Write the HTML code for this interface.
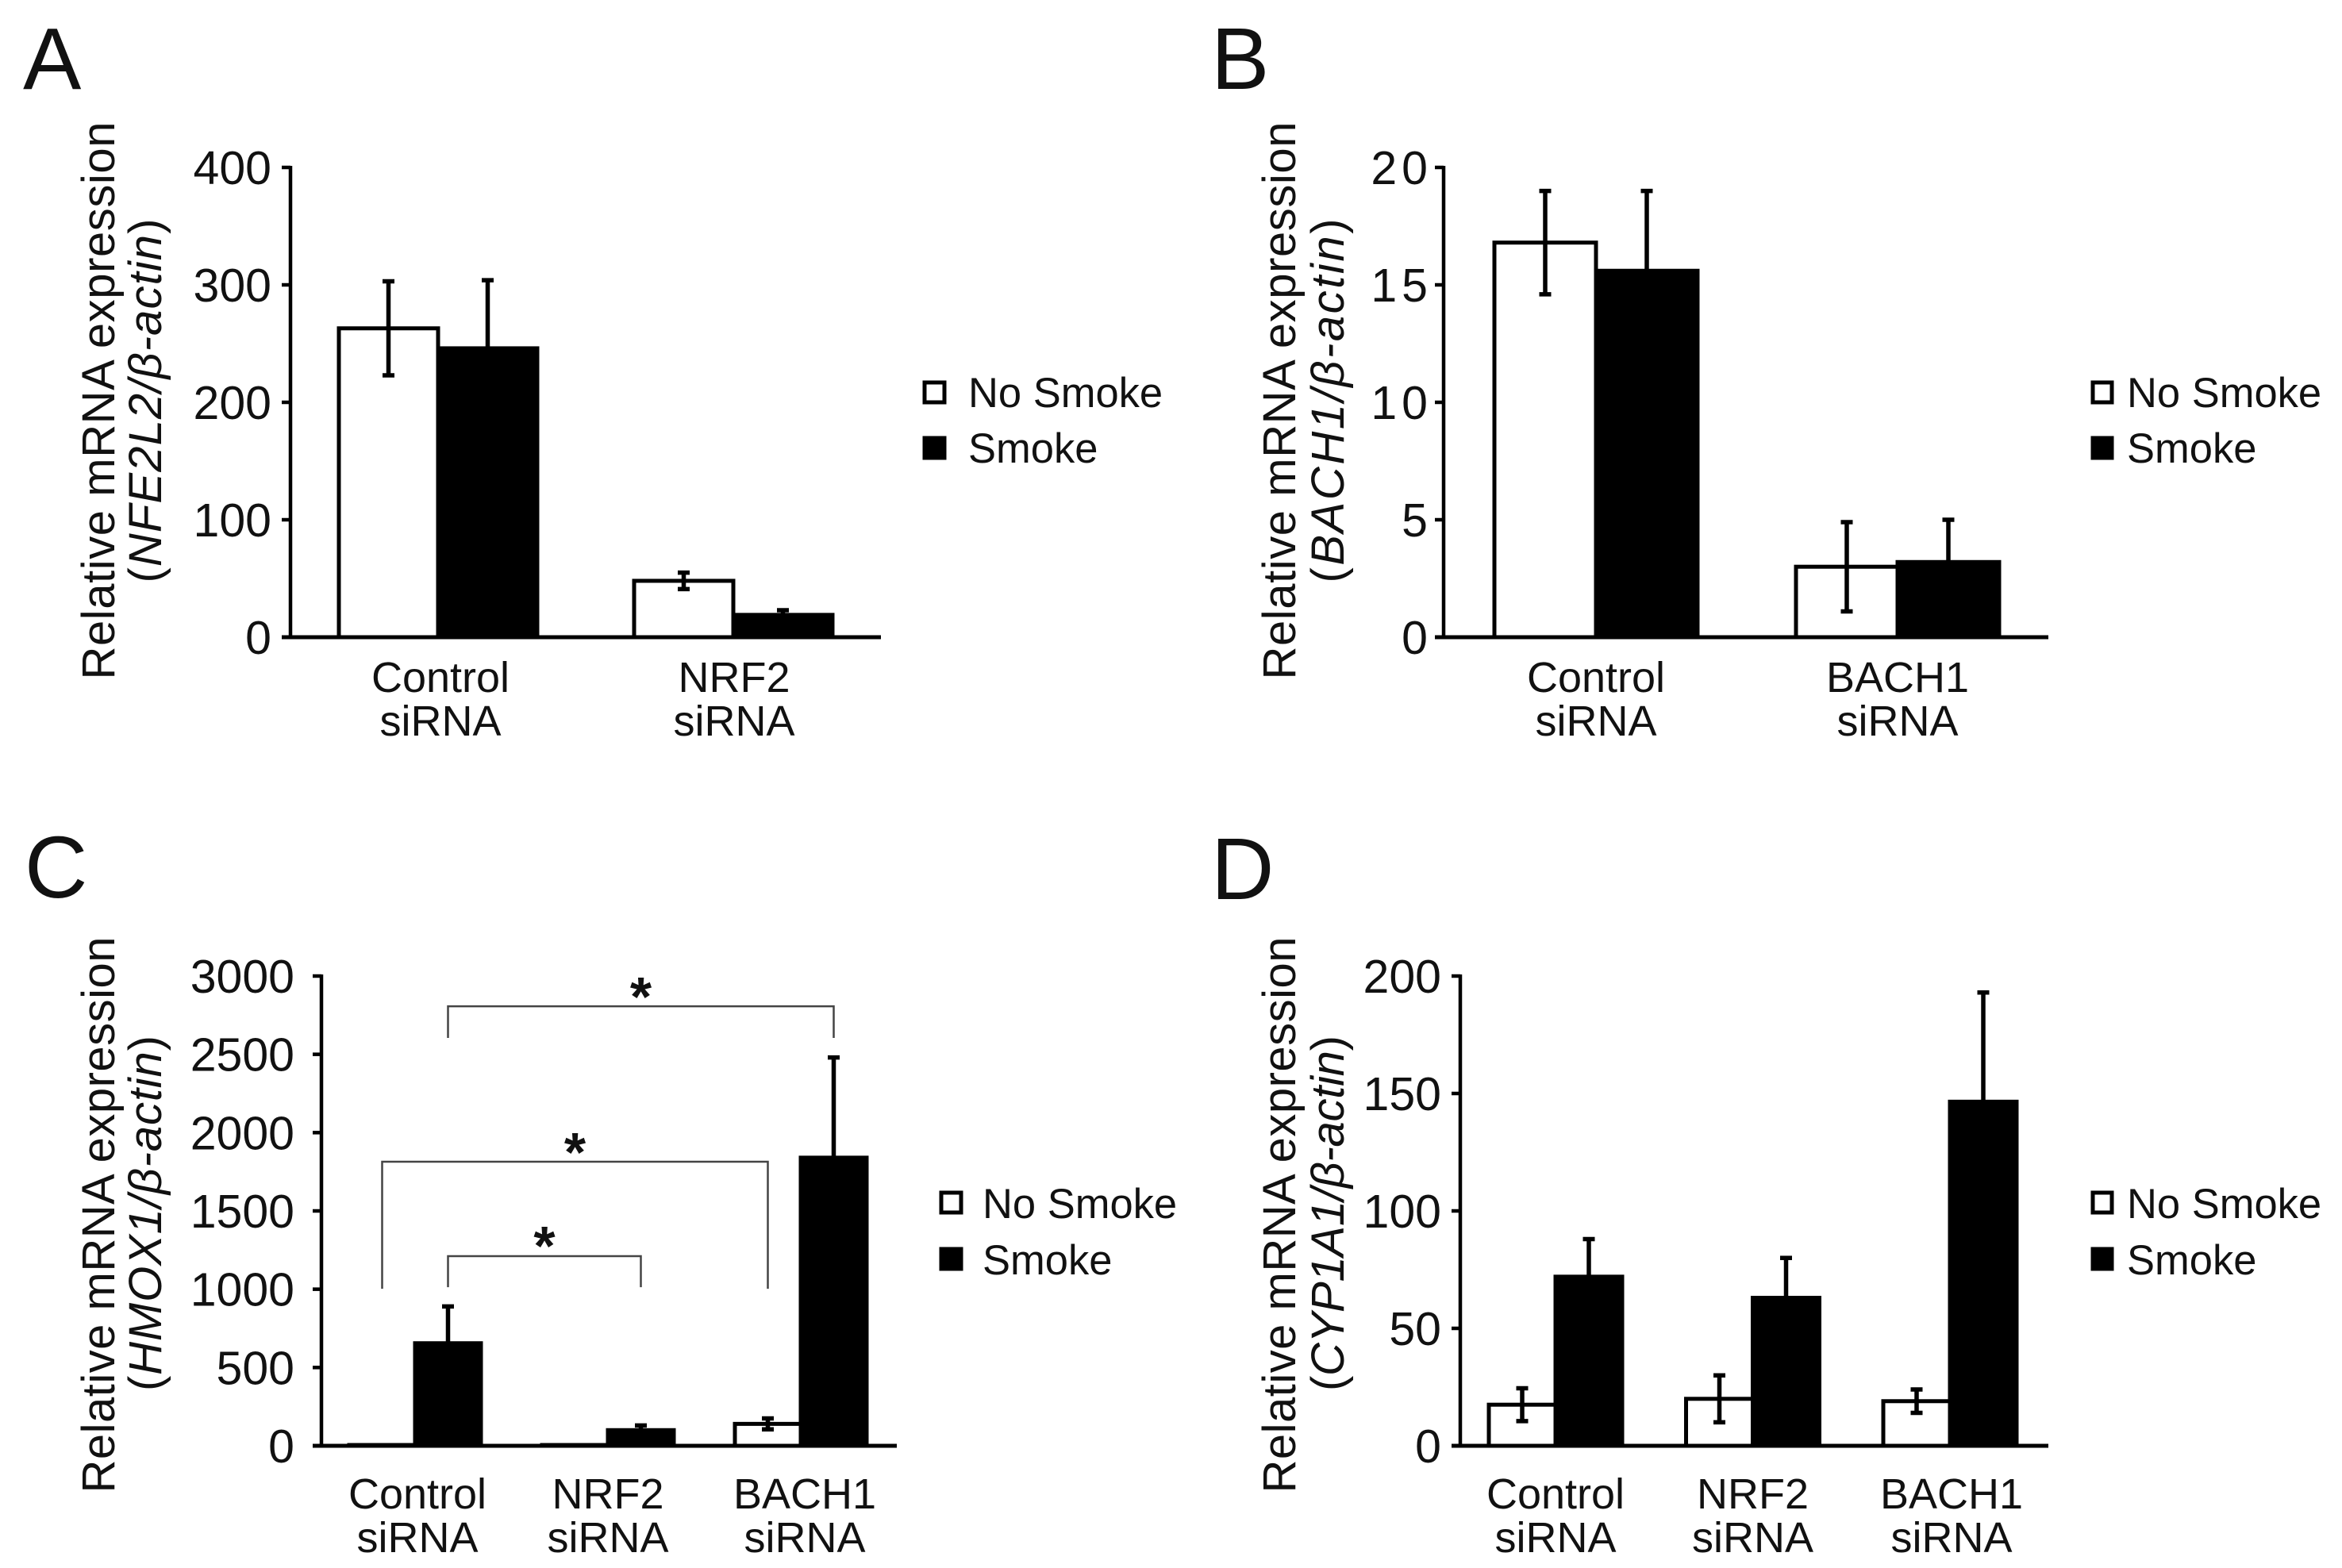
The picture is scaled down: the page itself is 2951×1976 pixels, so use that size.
<!DOCTYPE html>
<html lang="en">
<head>
<meta charset="utf-8">
<title>Relative mRNA expression panels</title>
<style>
html,body{margin:0;padding:0;background:#fff;}
svg{display:block;}
text{font-family:"Liberation Sans",Arial,sans-serif;fill:#111;}
.letter{font-size:110px;}
.ytitle{font-size:58px;}
.legend{font-size:52.5px;}
.tick{font-size:59px;text-anchor:end;}
.cat{font-size:54px;text-anchor:middle;}
.star{font-size:70px;font-weight:bold;text-anchor:middle;}
</style>
</head>
<body>
<svg id="figure" xmlns="http://www.w3.org/2000/svg" width="2951" height="1976" viewBox="0 0 2951 1976">
<rect width="2951" height="1976" fill="#fff"/>

<text class="letter" x="29" y="112">A</text>
<text class="letter" x="1526" y="112">B</text>
<text class="letter" x="31" y="1131">C</text>
<text class="letter" x="1526" y="1133">D</text>

<g>
<text class="ytitle" text-anchor="middle" textLength="703" transform="translate(144,505) rotate(-90)">Relative mRNA expression</text>
<text class="ytitle" text-anchor="middle" textLength="459" transform="translate(203,505) rotate(-90)">(<tspan font-style="italic">NFE2L2/β-actin</tspan>)</text>
</g>
<g>
<text class="ytitle" text-anchor="middle" textLength="703" transform="translate(1632,505) rotate(-90)">Relative mRNA expression</text>
<text class="ytitle" text-anchor="middle" textLength="459" transform="translate(1693,505) rotate(-90)">(<tspan font-style="italic">BACH1/β-actin</tspan>)</text>
</g>
<g>
<text class="ytitle" text-anchor="middle" textLength="701" transform="translate(144,1531) rotate(-90)">Relative mRNA expression</text>
<text class="ytitle" text-anchor="middle" textLength="448" transform="translate(203,1529) rotate(-90)">(<tspan font-style="italic">HMOX1/β-actin</tspan>)</text>
</g>
<g>
<text class="ytitle" text-anchor="middle" textLength="701" transform="translate(1632,1531) rotate(-90)">Relative mRNA expression</text>
<text class="ytitle" text-anchor="middle" textLength="448" transform="translate(1693,1529) rotate(-90)">(<tspan font-style="italic">CYP1A1/β-actin</tspan>)</text>
</g>

<g>
<rect x="1165" y="482" width="25" height="25" fill="#fff" stroke="#000" stroke-width="5"/>
<text class="legend" x="1220" y="513">No Smoke</text>
<rect x="1165" y="552" width="25" height="25" fill="#000" stroke="#000" stroke-width="5"/>
<text class="legend" x="1220" y="583">Smoke</text>
</g>
<g>
<rect x="2637" y="482" width="24" height="25" fill="#fff" stroke="#000" stroke-width="5"/>
<text class="legend" x="2680" y="513">No Smoke</text>
<rect x="2637" y="552" width="24" height="25" fill="#000" stroke="#000" stroke-width="5"/>
<text class="legend" x="2680" y="583">Smoke</text>
</g>
<g>
<rect x="1186" y="1503" width="25" height="25" fill="#fff" stroke="#000" stroke-width="5"/>
<text class="legend" x="1238" y="1535">No Smoke</text>
<rect x="1186" y="1574" width="25" height="25" fill="#000" stroke="#000" stroke-width="5"/>
<text class="legend" x="1238" y="1606">Smoke</text>
</g>
<g>
<rect x="2637" y="1503" width="24" height="25" fill="#fff" stroke="#000" stroke-width="5"/>
<text class="legend" x="2680" y="1535">No Smoke</text>
<rect x="2637" y="1574" width="24" height="25" fill="#000" stroke="#000" stroke-width="5"/>
<text class="legend" x="2680" y="1606">Smoke</text>
</g>
</svg>

<script>
// Panel A data
const aCategories = ["Control siRNA", "NRF2 siRNA"];
const aNoSmoke = [263, 48];
const aSmoke = [246, 19];
const aNoSmokeErr = [40, 7];
const aSmokeErr = [58, 4];
const aTicks = [0, 100, 200, 300, 400];

// Panel B data
const bCategories = ["Control siRNA", "BACH1 siRNA"];
const bNoSmoke = [16.8, 3.0];
const bSmoke = [15.6, 3.2];
const bNoSmokeErr = [2.2, 1.9];
const bSmokeErr = [3.4, 1.8];
const bTicks = [0, 5, 10, 15, 20];

// Panel C data
const cCategories = ["Control siRNA", "NRF2 siRNA", "BACH1 siRNA"];
const cNoSmoke = [5, 5, 140];
const cSmoke = [655, 100, 1840];
const cNoSmokeErr = [0, 0, 35];
const cSmokeErr = [235, 30, 640];
const cTicks = [0, 500, 1000, 1500, 2000, 2500, 3000];
// Significance brackets: bar series/group at each end, bracket level, leg end levels
const cBracketFrom = [[1, 0], [0, 0], [1, 0]];
const cBracketTo = [[1, 2], [0, 2], [1, 1]];
const cBracketLevel = [2807, 1814, 1211];
const cBracketLegLeft = [2605, 1003, 1013];
const cBracketLegRight = [2605, 1003, 1013];
const cStarLevel = [2918, 1926, 1328];
const cStarLabel = ["*", "*", "*"];

// Panel D data
const dCategories = ["Control siRNA", "NRF2 siRNA", "BACH1 siRNA"];
const dNoSmoke = [17.5, 20, 19];
const dSmoke = [72, 63, 146.5];
const dNoSmokeErr = [7, 10, 5];
const dSmokeErr = [16, 17, 46.5];
const dTicks = [0, 50, 100, 150, 200];

const SVGNS = "http://www.w3.org/2000/svg";
const fig = document.getElementById("figure");

function make(parent, tag, attrs) {
  const el = document.createElementNS(SVGNS, tag);
  for (const k in attrs) el.setAttribute(k, attrs[k]);
  parent.appendChild(el);
  return el;
}

function drawPanel(id, frame, d) {
  const g = make(fig, "g", {});
  
  

  const yMax = Math.max.apply(null, d.ticks);
  const y = v => frame.base - (v / yMax) * (frame.base - frame.top);
  const mid = i => frame.firstGroup + i * frame.step;
  const barCentre = (s, i) => mid(i) + (s === 0 ? -frame.barW / 2 : frame.barW / 2);

  const series = [
    { key: 'no-smoke', values: d.noSmoke, errs: d.noSmokeErr, fill: '#fff', s: 0 },
    { key: 'smoke', values: d.smoke, errs: d.smokeErr, fill: '#000', s: 1 }
  ];

  series.forEach(function (sr) {
    sr.values.forEach(function (v, i) {
      const bar = make(g, "rect", {
        x: sr.s === 0 ? mid(i) - frame.barW : mid(i),
        y: y(v),
        width: frame.barW,
        height: frame.base - y(v),
        fill: sr.fill,
        stroke: '#000',
        'stroke-width': 5
      });
      
      
    });
  });

  series.forEach(function (sr) {
    sr.values.forEach(function (v, i) {
      const e = sr.errs[i];
      if (!e) return;
      const cx = barCentre(sr.s, i);
      const hi = y(v + e), lo = y(v - e);
      const path = 'M' + cx + ' ' + hi + 'V' + lo +
        'M' + (cx - 7.5) + ' ' + hi + 'H' + (cx + 7.5) +
        'M' + (cx - 7.5) + ' ' + lo + 'H' + (cx + 7.5);
      const eb = make(g, "path", { d: path, fill: 'none', stroke: '#000', 'stroke-width': 5.5 });
      
      
    });
  });

  const yAxis = make(g, "line", { x1: frame.left, x2: frame.left, y1: frame.top - 2, y2: frame.base, stroke: '#000', 'stroke-width': 4.5 });
  
  

  const xAxis = make(g, "line", { x1: frame.left - 11, x2: frame.right, y1: frame.base, y2: frame.base, stroke: '#000', 'stroke-width': 5 });
  
  

  d.ticks.forEach(function (t) {
    const mark = make(g, "line", { x1: frame.left - 11, x2: frame.left, y1: y(t), y2: y(t), stroke: '#000', 'stroke-width': 4.5 });
    
    
    const label = make(g, "text", { x: frame.left - frame.tickGap, y: y(t) + 21, class: 'tick', 'letter-spacing': frame.tickSpacing });
    label.textContent = String(t);
    
    
  });

  d.categories.forEach(function (c, i) {
    const parts = c.split(' ');
    parts.forEach(function (p, li) {
      const label = make(g, "text", {
        x: mid(i) + frame.labelShift[i],
        y: frame.labelY + li * 55,
        class: 'cat'
      });
      label.textContent = p;
      
      
    });
  });

  if (d.bracketLevel) {
    d.bracketLevel.forEach(function (lvl, b) {
      const xa = barCentre(d.bracketFrom[b][0], d.bracketFrom[b][1]);
      const xb = barCentre(d.bracketTo[b][0], d.bracketTo[b][1]);
      const path = 'M' + xa + ' ' + y(d.bracketLegLeft[b]) + 'V' + y(lvl) + 'H' + xb + 'V' + y(d.bracketLegRight[b]);
      const br = make(g, "path", { d: path, fill: 'none', stroke: '#444', 'stroke-width': 2.5 });
      
      
      const star = make(g, "text", { x: (xa + xb) / 2, y: y(d.starLevel[b]) + 34, class: 'star' });
      star.textContent = d.starLabel[b];
      
      
    });
  }
}

drawPanel('a',
  { left: 366, right: 1110, top: 211, base: 803, firstGroup: 552, step: 372, barW: 125, labelShift: [3, 1], labelY: 872, tickGap: 24, tickSpacing: 0 },
  { categories: aCategories, noSmoke: aNoSmoke, smoke: aSmoke, noSmokeErr: aNoSmokeErr, smokeErr: aSmokeErr, ticks: aTicks });

drawPanel('b',
  { left: 1819, right: 2581, top: 211, base: 803, firstGroup: 2011, step: 380, barW: 128, labelShift: [0, 0], labelY: 872, tickGap: 14, tickSpacing: 6 },
  { categories: bCategories, noSmoke: bNoSmoke, smoke: bSmoke, noSmokeErr: bNoSmokeErr, smokeErr: bSmokeErr, ticks: bTicks });

drawPanel('c',
  { left: 405, right: 1130, top: 1230, base: 1822, firstGroup: 523, step: 243, barW: 83, labelShift: [3, 0, 5], labelY: 1901, tickGap: 34, tickSpacing: 0 },
  { categories: cCategories, noSmoke: cNoSmoke, smoke: cSmoke, noSmokeErr: cNoSmokeErr, smokeErr: cSmokeErr, ticks: cTicks,
    bracketFrom: cBracketFrom, bracketTo: cBracketTo, bracketLevel: cBracketLevel,
    bracketLegLeft: cBracketLegLeft, bracketLegRight: cBracketLegRight, starLevel: cStarLevel, starLabel: cStarLabel });

drawPanel('d',
  { left: 1840, right: 2581, top: 1230, base: 1822, firstGroup: 1960, step: 248.5, barW: 84, labelShift: [0, 0, 2], labelY: 1901, tickGap: 24, tickSpacing: 0 },
  { categories: dCategories, noSmoke: dNoSmoke, smoke: dSmoke, noSmokeErr: dNoSmokeErr, smokeErr: dSmokeErr, ticks: dTicks });
</script>
</body>
</html>
